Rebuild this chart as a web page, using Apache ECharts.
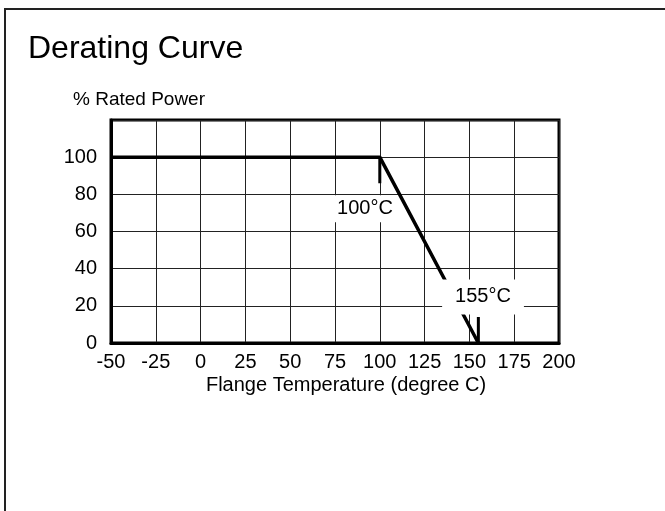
<!DOCTYPE html>
<html>
<head>
<meta charset="utf-8">
<script src="https://cdn.jsdelivr.net/npm/echarts@6/dist/echarts.min.js"></script>
<style>html,body{margin:0;padding:0;background:#fff}#c{width:665px;height:511px}</style>
</head>
<body>
<div id="c"></div>
<script>
// Data
const curvePoints = [[-50, 100], [100, 100], [155, 0]];
const markerAt100 = [[100, 100], [100, 86]];
const markerAt155 = [[155, 14], [155, 0]];
const annotations = [
  { value: [91.7, 72.2], text: '100°C' },
  { value: [157.6, 24.8], text: '155°C' }
];
const yTickLabels = [0, 20, 40, 60, 80, 100];
const xTickLabels = [-50, -25, 0, 25, 50, 75, 100, 125, 150, 175, 200];

const FONT = '"Liberation Sans", Arial, sans-serif';
const chart = echarts.init(document.getElementById('c'), null, { renderer: 'canvas' });
chart.setOption({
  animation: false,
  backgroundColor: '#fff',
  textStyle: { fontFamily: FONT, color: '#000' },
  graphic: [{
    type: 'rect', silent: true, z: 100,
    shape: { x: 5, y: 9, width: 800, height: 700 },
    style: { fill: 'none', stroke: '#222', lineWidth: 2 }
  }],
  title: [
    { text: 'Derating Curve', left: 28, top: 33, padding: 0,
      textStyle: { fontFamily: FONT, fontSize: 32, fontWeight: 'normal', color: '#000' } },
    { text: '% Rated Power', left: 73, top: 90, padding: 0,
      textStyle: { fontFamily: FONT, fontSize: 19, fontWeight: 'normal', color: '#000' } }
  ],
  grid: { left: 111, right: 106, top: 120, bottom: 168, show: true,
          borderColor: '#000', borderWidth: 3, containLabel: false },
  xAxis: {
    type: 'value', min: -50, max: 200, interval: 25,
    name: 'Flange Temperature (degree C)', nameLocation: 'middle', nameGap: 32,
    nameTextStyle: { fontFamily: FONT, fontSize: 20, color: '#000', padding: [0, 0, 0, 22] },
    axisLine: { show: true, onZero: false, lineStyle: { color: '#000', width: 3 } },
    axisTick: { show: false },
    splitLine: { show: true, lineStyle: { color: '#222', width: 1 } },
    axisLabel: { fontFamily: FONT, fontSize: 20, color: '#000', margin: 9,
      showMaxLabel: true, showMinLabel: true, hideOverlap: false,
      formatter: v => xTickLabels.includes(v) ? String(v) : '' }
  },
  yAxis: {
    type: 'value', min: 0, max: 120, interval: 20,
    axisLine: { show: true, onZero: false, lineStyle: { color: '#000', width: 3 } },
    axisTick: { show: false },
    splitLine: { show: true, lineStyle: { color: '#222', width: 1 } },
    axisLabel: { fontFamily: FONT, fontSize: 20, color: '#000', margin: 14,
      padding: [8, 0, 0, 0],
      formatter: v => yTickLabels.includes(v) ? String(v) : '' }
  },
  series: [
    { type: 'line', data: curvePoints, symbol: 'none', z: 3,
      lineStyle: { color: '#000', width: 3.5 } },
    { type: 'line', data: markerAt100, symbol: 'none', z: 3,
      lineStyle: { color: '#000', width: 3 } },
    { type: 'line', data: markerAt155, symbol: 'none', z: 3,
      lineStyle: { color: '#000', width: 3 } },
    { type: 'scatter', z: 10, symbolSize: 0,
      itemStyle: { opacity: 1, color: '#fff' },
      data: annotations.map((a, i) => ({
        value: a.value,
        label: {
          show: true, position: 'inside', formatter: a.text,
          fontFamily: FONT, fontSize: 20, color: '#000', opacity: 1,
          backgroundColor: '#fff',
          padding: i === 0 ? [4, 5, 3, 5] : [8, 13, 7, 13]
        }
      }))
    }
  ]
});
</script>
</body>
</html>
